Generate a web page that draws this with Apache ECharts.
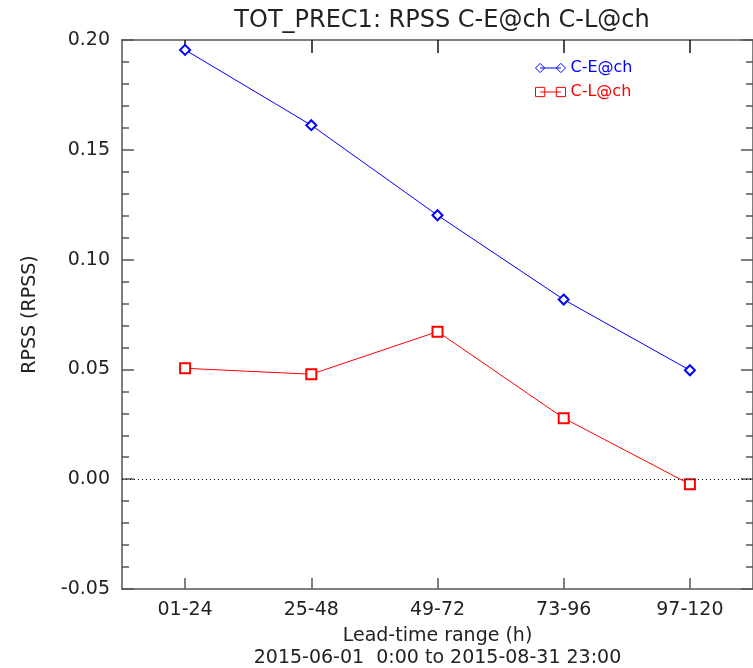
<!DOCTYPE html>
<html>
<head>
<meta charset="utf-8">
<script src="https://cdn.jsdelivr.net/npm/echarts@6/dist/echarts.min.js"></script>
<style>
html,body{margin:0;padding:0;background:#fff;}
#chart{width:753px;height:668px;}
</style>
</head>
<body>
<div id="chart"></div>
<script>
var categories = ['01-24', '25-48', '49-72', '73-96', '97-120'];
var seriesNames = ['C-E@ch', 'C-L@ch'];
var ceValues = [0.1955, 0.1612, 0.1202, 0.0818, 0.0496];
var clValues = [0.0505, 0.0478, 0.0672, 0.0278, -0.0023];
var titleText = 'TOT_PREC1: RPSS C-E@ch C-L@ch';
var xName = 'Lead-time range (h)';
var periodText = '2015-06-01  0:00 to 2015-08-31 23:00';
var yName = 'RPSS (RPSS)';

var FONT = 'DejaVu Sans';
var AX = '#555';
var TXT = '#222';

var yBase = {
  type: 'value', min: -0.05, max: 0.20, interval: 0.05,
  axisLine: {show: true, onZero: false, lineStyle: {color: AX, width: 1.5}},
  axisTick: {show: true, inside: true, length: 12, lineStyle: {color: AX, width: 1.5}},
  minorTick: {show: true, splitNumber: 5, length: 7, lineStyle: {color: AX, width: 1.5}},
  splitLine: {show: false}
};

var chart = echarts.init(document.getElementById('chart'), null, {renderer: 'canvas'});
chart.setOption({
  animation: false,
  backgroundColor: '#fff',
  title: {
    text: titleText, left: 437, top: 4, textAlign: 'center',
    textStyle: {fontFamily: FONT, fontSize: 24, fontWeight: 'normal', color: TXT}
  },
  legend: {
    orient: 'vertical', left: 530, top: 55, itemGap: 8,
    itemWidth: 30, itemHeight: 14,
    textStyle: {fontFamily: FONT, fontSize: 16},
    data: [
      {name: seriesNames[0],
       icon: 'path://M4,1L8,5L4,9L0,5ZM22,1L26,5L22,9L18,5ZM4,5L22,5',
       itemStyle: {color: 'transparent', borderColor: '#0000ff', borderWidth: 1},
       textStyle: {color: '#0000ff'}},
      {name: seriesNames[1],
       icon: 'path://M0,1L8,1L8,9L0,9ZM18,1L26,1L26,9L18,9ZM4,5L22,5',
       itemStyle: {color: 'transparent', borderColor: '#ff0000', borderWidth: 1},
       textStyle: {color: '#ff0000'}}
    ]
  },
  grid: {left: 122, right: 0, top: 40, bottom: 79, containLabel: false, outerBoundsMode: 'none'},
  xAxis: [
    {
      type: 'category', data: categories, boundaryGap: true, position: 'bottom',
      axisLine: {show: true, onZero: false, lineStyle: {color: AX, width: 1.5}},
      axisTick: {show: true, inside: true, length: 11, alignWithLabel: true, lineStyle: {color: AX, width: 1.5}},
      axisLabel: {fontFamily: FONT, fontSize: 19, color: TXT, margin: 12},
      name: xName + '\n' + periodText, nameLocation: 'middle', nameGap: 36,
      nameTextStyle: {fontFamily: FONT, fontSize: 19, color: TXT, lineHeight: 22, verticalAlign: 'top'}
    },
    {
      type: 'category', data: categories, boundaryGap: true, position: 'top',
      axisLine: {show: true, onZero: false, lineStyle: {color: AX, width: 1.5}},
      axisTick: {show: true, inside: true, length: 13, alignWithLabel: true, lineStyle: {color: '#111', width: 1.5}},
      axisLabel: {show: false}
    }
  ],
  yAxis: [
    Object.assign({}, yBase, {
      position: 'left',
      axisLabel: {fontFamily: FONT, fontSize: 19, color: TXT, margin: 12,
        formatter: function (v) { return v.toFixed(2); }},
      name: yName, nameLocation: 'middle', nameGap: 82, nameRotate: 90,
      nameTextStyle: {fontFamily: FONT, fontSize: 19, color: TXT}
    }),
    Object.assign({}, yBase, {position: 'right', axisLabel: {show: false}})
  ],
  series: [
    {
      name: seriesNames[0], type: 'line', data: ceValues,
      symbol: 'emptyDiamond', symbolSize: 10,
      itemStyle: {color: '#0000ff', borderWidth: 1},
      lineStyle: {color: '#0000ff', width: 1},
      markLine: {
        silent: true, symbol: 'none', label: {show: false},
        lineStyle: {color: '#000', width: 1, type: [1, 3]},
        data: [{yAxis: 0}]
      }
    },
    {
      name: seriesNames[1], type: 'line', data: clValues,
      symbol: 'emptyRect', symbolSize: 10,
      itemStyle: {color: '#ff0000', borderWidth: 1},
      lineStyle: {color: '#ff0000', width: 1}
    }
  ]
});
</script>
</body>
</html>
